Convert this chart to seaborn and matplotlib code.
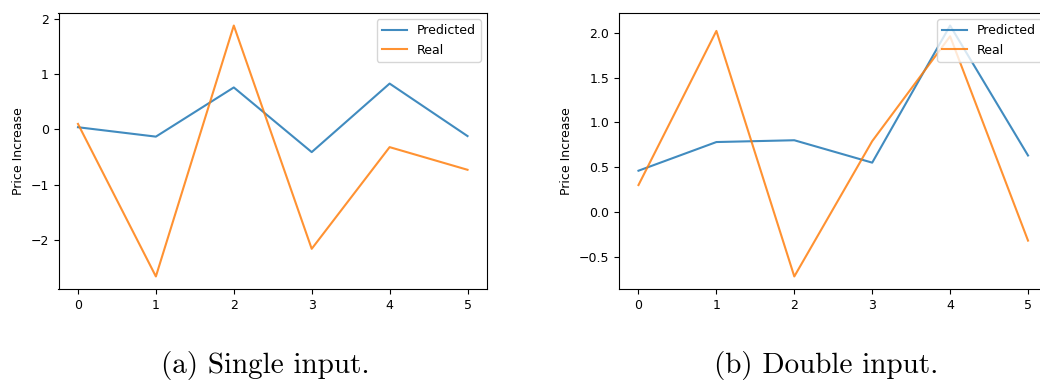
import matplotlib
matplotlib.use("Agg")
import matplotlib.pyplot as plt
import seaborn as sns
import pandas as pd
import numpy as np

steps = [0, 1, 2, 3, 4, 5]
single_predicted = [0.04, -0.13, 0.76, -0.41, 0.83, -0.12]
single_real = [0.10, -2.66, 1.88, -2.16, -0.32, -0.73]
double_predicted = [0.46, 0.78, 0.80, 0.55, 2.08, 0.63]
double_real = [0.30, 2.02, -0.72, 0.79, 1.96, -0.32]
captions = ["(a) Single input.", "(b) Double input."]
ylabel = "Price Increase"

plt.rcParams["font.size"] = 9
plt.rcParams["axes.unicode_minus"] = True

W, H = 1040, 383
fig = plt.figure(figsize=(W / 100, H / 100), dpi=100)

def ax_at(x0, y0, x1, y1):
    return fig.add_axes([x0 / W, 1 - y1 / H, (x1 - x0) / W, (y1 - y0) / H])

ax1 = ax_at(58.5, 13, 487, 289)
ax2 = ax_at(619, 13, 1047.5, 289)

for ax, pred, real in [(ax1, single_predicted, single_real), (ax2, double_predicted, double_real)]:
    df = pd.DataFrame({"step": steps * 2,
                       "value": pred + real,
                       "series": ["Predicted"] * len(steps) + ["Real"] * len(steps)})
    sns.lineplot(data=df, x="step", y="value", hue="series",
                 palette=["#1f77b4", "#ff7f0e"], ax=ax, linewidth=1.5, alpha=0.85)
    ax.set_xlabel("")
    ax.set_ylabel(ylabel, fontsize=9)
    ax.set_xticks(steps)
    ax.tick_params(labelsize=9)
    ax.legend(loc="upper right", fontsize=9, title=None)

ax2.set_yticks([-0.5, 0.0, 0.5, 1.0, 1.5, 2.0])

fig.text(265 / W, 1 - 366 / H, captions[0], family="cmr10", fontsize=21, ha="center", va="center")
fig.text(826 / W, 1 - 366 / H, captions[1], family="cmr10", fontsize=21, ha="center", va="center")

fig.savefig("out.png", dpi=100)
